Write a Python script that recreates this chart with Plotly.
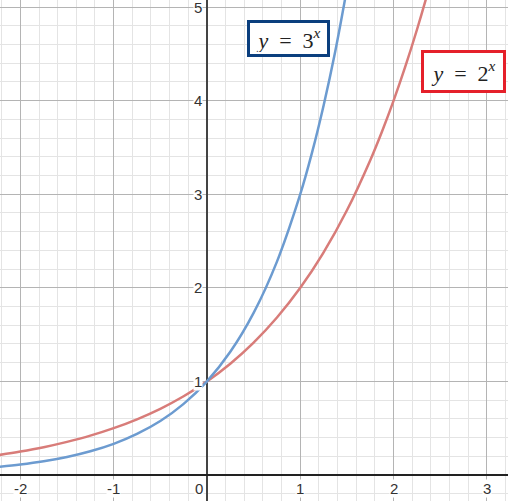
import plotly.graph_objects as go

# points
x_three = [-2.25, -2, -1.75, -1.5, -1.25, -1, -0.75, -0.5, -0.25, 0,
           0.25, 0.5, 0.75, 1, 1.125, 1.25, 1.375, 1.5]
y_three = [0.084, 0.111, 0.146, 0.192, 0.253, 0.333, 0.439, 0.577, 0.760, 1.0,
           1.316, 1.732, 2.280, 3.0, 3.441, 3.948, 4.528, 5.196]
x_two = [-2.25, -2, -1.75, -1.5, -1.25, -1, -0.75, -0.5, -0.25, 0,
         0.25, 0.5, 0.75, 1, 1.25, 1.5, 1.75, 1.875, 2, 2.125, 2.25, 2.375, 2.5]
y_two = [0.210, 0.25, 0.297, 0.354, 0.420, 0.5, 0.595, 0.707, 0.841, 1.0,
         1.189, 1.414, 1.682, 2.0, 2.378, 2.828, 3.364, 3.668, 4.0, 4.362, 4.757, 5.187, 5.657]

x_ticks = [-2, -1, 1, 2, 3]
y_ticks = [1, 2, 3, 4, 5]

blue = "#6c9bd0"
red = "#d87c79"

fig = go.Figure()
fig.add_trace(go.Scatter(x=x_two, y=y_two, mode="lines",
                         line=dict(color=red, width=2.5, shape="spline"),
                         showlegend=False, hoverinfo="skip"))
fig.add_trace(go.Scatter(x=x_three, y=y_three, mode="lines",
                         line=dict(color=blue, width=2.5, shape="spline"),
                         showlegend=False, hoverinfo="skip"))

label_font = dict(family="Liberation Sans, Arial", size=15, color="#333333")
annotations = []
for v in x_ticks:
    annotations.append(dict(x=v, y=0, text=str(v), showarrow=False, yanchor="top",
                            yshift=-4, font=label_font, bgcolor="white", borderpad=0))
for v in y_ticks:
    annotations.append(dict(x=0, y=v, text=str(v), showarrow=False, xanchor="right",
                            xshift=-4, font=label_font, bgcolor="white", borderpad=0))
annotations.append(dict(x=0, y=0, text="0", showarrow=False, xanchor="right", yanchor="top",
                        xshift=-3, yshift=-4, font=label_font, bgcolor="white", borderpad=0))

eq_font = dict(family="Liberation Serif, Times New Roman", size=22, color="#222222")
annotations.append(dict(x=0.879, y=4.66, showarrow=False,
                        text="<i>y</i>&nbsp;&nbsp;=&nbsp;&nbsp;3<sup><i>x</i></sup>",
                        font=eq_font, bgcolor="white", bordercolor="#0b3f7e",
                        borderwidth=3, borderpad=2, width=73, height=27))
annotations.append(dict(x=2.744, y=4.306, showarrow=False,
                        text="<i>y</i>&nbsp;&nbsp;=&nbsp;&nbsp;2<sup><i>x</i></sup>",
                        font=eq_font, bgcolor="white", bordercolor="#e5202a",
                        borderwidth=3, borderpad=2, width=75, height=33))

fig.update_layout(
    width=519, height=503,
    margin=dict(l=0, r=11, t=0, b=2),
    plot_bgcolor="white", paper_bgcolor="white",
    annotations=annotations,
    xaxis=dict(range=[-2.218, 3.226], dtick=1, tick0=0, showticklabels=False,
               showgrid=True, gridcolor="#b4b4b4", gridwidth=1,
               minor=dict(dtick=0.2, tick0=0, showgrid=True, gridcolor="#e4e4e4", gridwidth=1),
               zeroline=True, zerolinecolor="#444444", zerolinewidth=2),
    yaxis=dict(range=[-0.278, 5.075], dtick=1, tick0=0, showticklabels=False,
               showgrid=True, gridcolor="#b4b4b4", gridwidth=1,
               minor=dict(dtick=0.2, tick0=0, showgrid=True, gridcolor="#e4e4e4", gridwidth=1),
               zeroline=True, zerolinecolor="#222222", zerolinewidth=2),
)

# drop the page's default body margin so the figure sits at the window corner
fig.write_html("out.html", config={"displayModeBar": False},
               post_script="document.body.style.margin = '0';")
